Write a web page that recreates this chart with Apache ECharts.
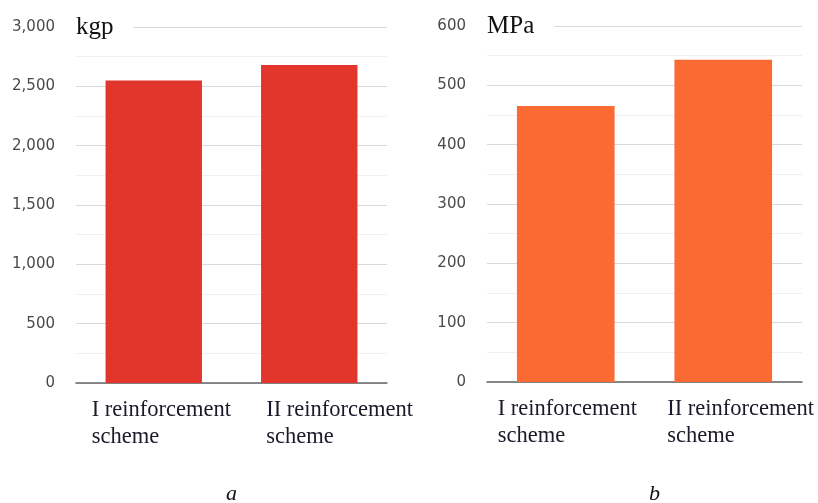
<!DOCTYPE html>
<html>
<head>
<meta charset="utf-8">
<script src="https://cdn.jsdelivr.net/npm/echarts@6/dist/echarts.min.js"></script>
<style>html,body{margin:0;padding:0;background:#fff;overflow:hidden;}#c{width:818px;height:503px;}</style>
</head>
<body>
<div id="c"></div>
<script>
var categories = ['I reinforcement\nscheme', 'II reinforcement\nscheme'];
var forceValues = [2550, 2680];
var stressValues = [465, 543];
var forceTicks = [0, 500, 1000, 1500, 2000, 2500, 3000];
var stressTicks = [0, 100, 200, 300, 400, 500, 600];
var forceUnit = 'kgp';
var stressUnit = 'MPa';
var panelLabels = ['a', 'b'];

var chart = echarts.init(document.getElementById('c'), null, {renderer: 'canvas', width: 818, height: 503});
var serif = '"Liberation Serif", "Times New Roman", serif';
var sans = '"DejaVu Sans", sans-serif';

function xAxis(gi, w0, w1) {
  var base = {fontFamily: serif, fontSize: 22.5, lineHeight: 27, color: '#1a1a2a', align: 'left'};
  return {
    type: 'category', gridIndex: gi, data: categories,
    axisLine: {lineStyle: {color: '#666', width: 1.5}},
    axisTick: {show: false},
    axisLabel: {
      interval: 0, margin: 14, align: 'right',
      formatter: function (v, i) {
        return v.split('\n').map(function (l) { return '{c' + i + '|' + l + '}'; }).join('\n');
      },
      rich: {
        c0: Object.assign({width: w0}, base),
        c1: Object.assign({width: w1}, base)
      }
    }
  };
}
function yAxis(gi, ticks, unit) {
  return {
    type: 'value', gridIndex: gi, min: ticks[0], max: ticks[ticks.length - 1],
    interval: ticks[1] - ticks[0],
    name: unit, nameLocation: 'end', nameGap: 0,
    nameTextStyle: {fontFamily: serif, fontSize: 25, color: '#111', align: 'left', verticalAlign: 'middle',
      backgroundColor: '#fff', padding: [0, 20, 0, 0]},
    axisLine: {show: false}, axisTick: {show: false},
    axisLabel: {margin: 21, fontFamily: sans, fontSize: 15, color: '#4a4a4a',
      formatter: function (v) { return v.toLocaleString('en-US'); }},
    splitLine: {show: true, lineStyle: {color: '#d9d9d9', width: 1}},
    minorTick: {show: false, splitNumber: 2},
    minorSplitLine: {show: true, lineStyle: {color: '#efefef', width: 1}}
  };
}

chart.setOption({
  animation: false,
  backgroundColor: '#fff',
  grid: [
    {left: 76, width: 311, top: 27, height: 356},
    {left: 487, width: 315, top: 26, height: 356}
  ],
  xAxis: [xAxis(0, 62, 43), xAxis(1, 68, 56)],
  yAxis: [yAxis(0, forceTicks, forceUnit), yAxis(1, stressTicks, stressUnit)],
  series: [
    {type: 'bar', xAxisIndex: 0, yAxisIndex: 0, data: forceValues, barCategoryGap: '38%',
      itemStyle: {color: '#E2352B'}},
    {type: 'bar', xAxisIndex: 1, yAxisIndex: 1, data: stressValues, barCategoryGap: '38%',
      itemStyle: {color: '#FC6A33'}}
  ],
  graphic: [
    {type: 'text', left: 226, top: 483, style: {text: panelLabels[0], font: 'italic 22px ' + serif, fill: '#111'}},
    {type: 'text', left: 649, top: 483, style: {text: panelLabels[1], font: 'italic 22px ' + serif, fill: '#111'}}
  ]
});
</script>
</body>
</html>
